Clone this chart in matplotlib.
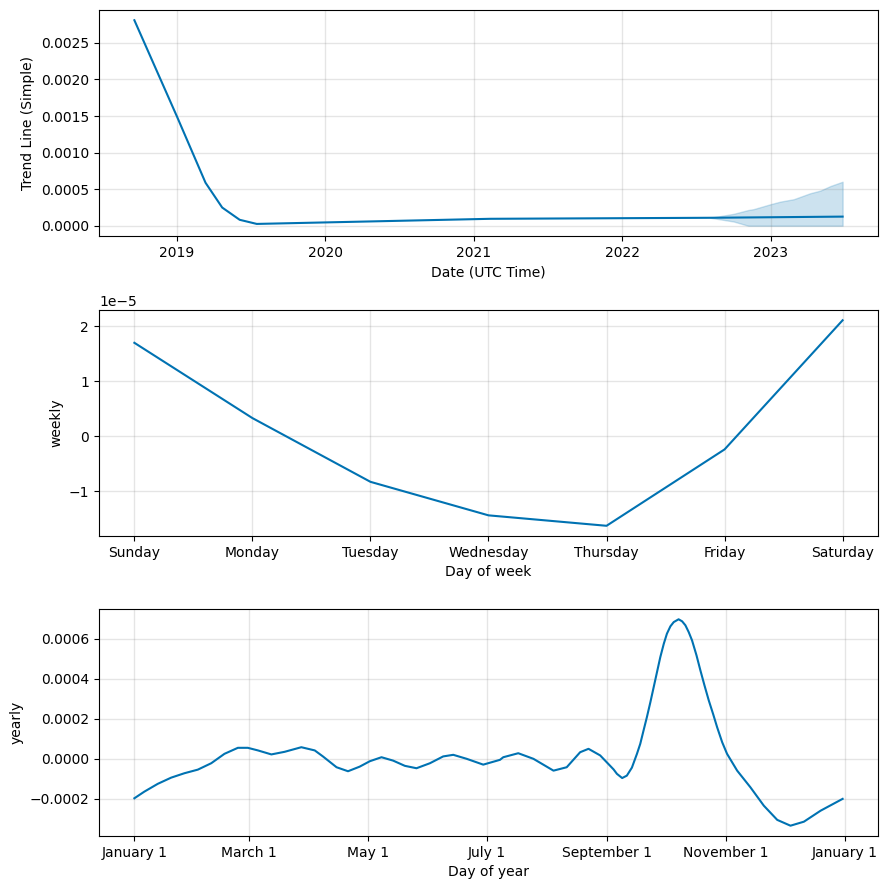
import pandas as pd
import matplotlib
matplotlib.use("Agg")
import matplotlib.pyplot as plt
from matplotlib.dates import YearLocator, DateFormatter, MonthLocator, num2date
from matplotlib.ticker import FuncFormatter

LINE_COLOR = "#0072B2"

# --- trend component ---
trend_dates = ["2018-09-19", "2019-01-02", "2019-03-13", "2019-04-23", "2019-06-05",
               "2019-07-17", "2021-02-10", "2022-08-06", "2023-06-27"]
trend_values = [0.00281, 0.00149, 0.000588, 0.000249, 0.0000815,
                0.000025, 0.000095, 0.000109, 0.000125]

band_dates = ["2022-08-06", "2022-10-02", "2022-11-07", "2022-11-20", "2023-01-01",
              "2023-01-25", "2023-02-27", "2023-04-08", "2023-05-03", "2023-05-28",
              "2023-06-27"]
band_upper = [0.000109, 0.000163, 0.000215, 0.000227, 0.000295,
              0.00033, 0.000363, 0.000444, 0.00048, 0.000543, 0.000602]
band_lower = [0.000109, 0.000058, 0.0, 0.0, 0.0,
              0.0, 0.0, 0.0, 0.0, 0.0, 0.0]

# --- weekly component ---
weekdays = ["Sunday", "Monday", "Tuesday", "Wednesday", "Thursday", "Friday", "Saturday"]
weekly_values = [1.70e-5, 0.33e-5, -0.83e-5, -1.44e-5, -1.63e-5, -0.24e-5, 2.11e-5]

# --- yearly component (day of year, value in 1e-4) ---
yearly_days = [0, 5.1, 12.0, 18.9, 25.7, 32.6, 39.5, 46.3, 53.2, 58.3,
               63.5, 70.4, 77.2, 85.8, 92.7, 96.9, 103.9, 109.8, 115.8, 121.0,
               127.0, 133.0, 139.0, 145.0, 151.9, 158.7, 163.9, 170.8, 179.3, 187.9,
               189.6, 197.3, 205.1, 215.4, 222.2, 229.1, 233.4, 239.4, 246.3, 248.0,
               250.7, 253.1, 255.7, 258.3, 260.0, 261.7, 263.4, 265.2, 266.9, 268.6,
               270.3, 272.1, 273.7, 275.5, 277.2, 279.7, 281.5, 283.2, 284.9, 286.6,
               288.9, 290.9, 293.0, 295.2, 297.5, 299.5, 302.1, 304.6, 309.8, 316.6,
               323.5, 330.4, 337.2, 344.1, 352.7, 364]
yearly_values = [-1.97, -1.64, -1.25, -0.94, -0.72, -0.54, -0.22, 0.25, 0.55, 0.55,
                 0.42, 0.22, 0.35, 0.58, 0.42, 0.12, -0.42, -0.62, -0.39, -0.12,
                 0.08, -0.09, -0.35, -0.47, -0.22, 0.12, 0.20, 0.0, -0.29, -0.05,
                 0.08, 0.28, 0.0, -0.59, -0.42, 0.33, 0.50, 0.17, -0.53, -0.75,
                 -0.96, -0.84, -0.44, 0.25, 0.75, 1.42, 2.08, 2.83, 3.58, 4.33,
                 5.08, 5.75, 6.25, 6.62, 6.83, 6.97, 6.87, 6.67, 6.33, 5.92,
                 5.17, 4.42, 3.67, 2.92, 2.22, 1.58, 0.83, 0.25, -0.59, -1.42,
                 -2.34, -3.05, -3.34, -3.14, -2.59, -2.0]

fig = plt.figure(figsize=(8.86, 8.89), dpi=100)
left, width = 0.1117, 0.8793
ax1 = fig.add_axes([left, 0.7345, width, 0.2543])
ax2 = fig.add_axes([left, 0.3970, width, 0.2543])
ax3 = fig.add_axes([left, 0.0596, width, 0.2554])

grid_kw = dict(which="major", c="gray", ls="-", lw=1, alpha=0.2)

# trend
t = pd.to_datetime(trend_dates)
b = pd.to_datetime(band_dates)
ax1.plot(t, trend_values, ls="-", c=LINE_COLOR)
ax1.fill_between(b, band_lower, band_upper, color=LINE_COLOR, alpha=0.2)
ax1.xaxis.set_major_locator(YearLocator())
ax1.xaxis.set_major_formatter(DateFormatter("%Y"))
ax1.grid(True, **grid_kw)
ax1.set_xlabel("Date (UTC Time)")
ax1.set_ylabel("Trend Line (Simple)")

# weekly
ax2.plot(range(len(weekdays)), weekly_values, ls="-", c=LINE_COLOR)
ax2.set_xticks(range(len(weekdays)))
ax2.set_xticklabels(weekdays)
ax2.grid(True, **grid_kw)
ax2.set_xlabel("Day of week")
ax2.set_ylabel("weekly")

# yearly
yd = pd.Timestamp("2017-01-01") + pd.to_timedelta(yearly_days, unit="D")
ax3.plot(yd, [v * 1e-4 for v in yearly_values], ls="-", c=LINE_COLOR)
ax3.xaxis.set_major_locator(MonthLocator(range(1, 13), bymonthday=1, interval=2))
ax3.xaxis.set_major_formatter(FuncFormatter(
    lambda x, pos=None: "{dt:%B} {dt.day}".format(dt=num2date(x))))
ax3.grid(True, **grid_kw)
ax3.set_xlabel("Day of year")
ax3.set_ylabel("yearly")

fig.savefig("out.png", dpi=100)
